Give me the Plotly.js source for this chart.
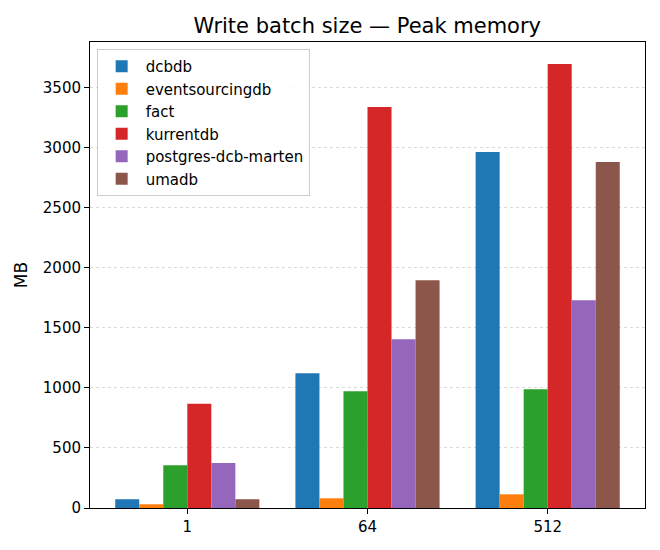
<!DOCTYPE html>
<html>
<head>
<meta charset="utf-8">
<script src="https://cdn.plot.ly/plotly-3.0.1.min.js"></script>
<style>body{margin:0;padding:0;background:#fff}#chart{width:660px;height:550px}</style>
</head>
<body>
<div id="chart"></div>
<script>
const categories = ["1", "64", "512"];
const seriesNames = ["dcbdb", "eventsourcingdb", "fact", "kurrentdb", "postgres-dcb-marten", "umadb"];
const dcbdb = [73, 1122, 2964];
const eventsourcingdb = [31, 81, 114];
const fact = [357, 972, 989];
const kurrentdb = [868, 3339, 3697];
const postgresDcbMarten = [374, 1406, 1731];
const umadb = [73, 1897, 2881];
const yTicks = [0, 500, 1000, 1500, 2000, 2500, 3000, 3500];

const colors = ["#1f77b4", "#ff7f0e", "#2ca02c", "#d62728", "#9467bd", "#8c564b"];
const values = [dcbdb, eventsourcingdb, fact, kurrentdb, postgresDcbMarten, umadb];

const traces = seriesNames.map((name, i) => ({
  type: "bar",
  name: name,
  x: categories,
  y: values[i],
  marker: {color: colors[i], line: {width: 0}},
  hoverinfo: "x+y+name"
}));

const layout = {
  width: 660, height: 550,
  font: {family: "DejaVu Sans, sans-serif", size: 15, color: "#000"},
  paper_bgcolor: "#fff", plot_bgcolor: "#fff",
  margin: {l: 90, r: 15, t: 42, b: 42},
  title: {text: "Write batch size — Peak memory", font: {size: 21, color: "#000"}, x: 0.5565, xanchor: "center", y: 0.953, yanchor: "middle"},
  barmode: "group", bargap: 0.2, bargroupgap: 0,
  xaxis: {
    type: "category", range: [-0.54, 2.54],
    showline: true, linecolor: "#000", linewidth: 1, mirror: true,
    ticks: "outside", ticklen: 5, tickcolor: "#000", showgrid: false, zeroline: false,
    tickfont: {size: 15}
  },
  yaxis: {
    range: [0, 3881], tickvals: yTicks, ticktext: yTicks.map(String),
    showline: true, linecolor: "#000", linewidth: 1, mirror: true,
    ticks: "outside", ticklen: 5, tickcolor: "#000",
    showgrid: true, gridcolor: "#d9d9d9", griddash: "dot", gridwidth: 1, zeroline: false,
    title: {text: "MB", font: {size: 17}, standoff: 10},
    tickfont: {size: 15}
  },
  legend: {
    x: 0.012, y: 0.985, xanchor: "left", yanchor: "top",
    bgcolor: "rgba(255,255,255,0.85)", bordercolor: "#cccccc", borderwidth: 1,
    font: {size: 15}, tracegroupgap: 0, itemwidth: 38
  },
  showlegend: true
};

Plotly.newPlot("chart", traces, layout, {displayModeBar: false, staticPlot: true});
</script>
</body>
</html>
